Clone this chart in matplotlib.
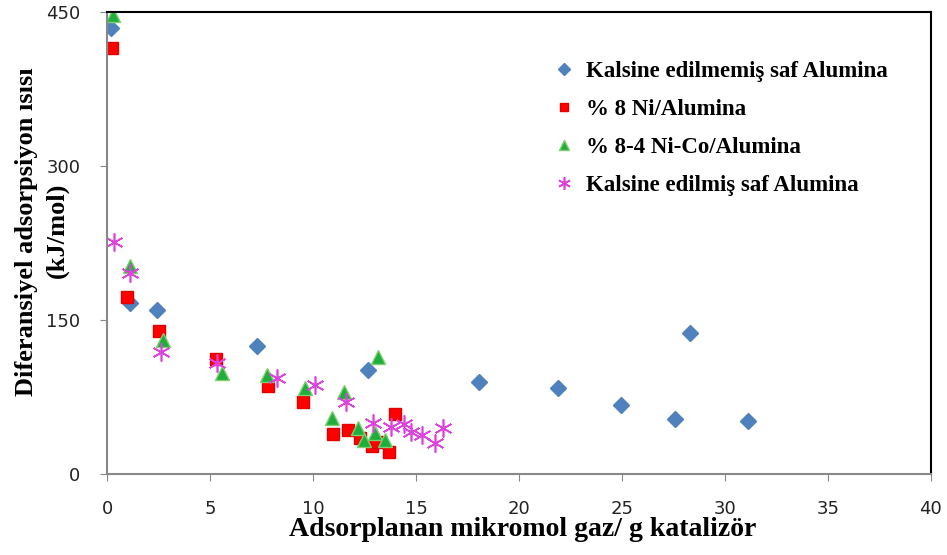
import numpy as np
import matplotlib.pyplot as plt

# Kalsine edilmemis saf Alumina
x_kalsinesiz = [0.2, 1.1, 2.45, 7.3, 12.65, 18.05, 21.9, 24.95, 27.6, 28.3, 31.1]
y_kalsinesiz = [435, 167, 160, 125, 101, 89.5, 83.5, 67, 53.5, 137, 51.5]

# % 8 Ni/Alumina
x_ni = [0.24, 0.97, 2.52, 5.29, 7.82, 9.5, 10.97, 11.7, 12.3, 12.85, 13.1, 13.7, 14.0]
y_ni = [415, 172, 139, 112, 86, 70, 39, 43, 35, 27, 31, 21, 58]

# % 8-4 Ni-Co/Alumina
x_nico = [0.3, 1.1, 2.7, 5.58, 7.77, 9.6, 10.9, 11.5, 12.2, 12.5, 13.0, 13.15, 13.5]
y_nico = [447, 203, 131, 98, 96, 84, 54.5, 80, 45, 33, 40, 114, 33]

# Kalsine edilmis saf Alumina
x_kalsine = [0.34, 1.12, 2.62, 5.34, 8.25, 10.1, 11.6, 12.9, 13.8, 14.4, 14.75, 15.3, 15.9, 16.3]
y_kalsine = [226, 196, 119, 108, 93.5, 86.5, 70, 50, 46, 49, 41, 38, 30, 45]

plt.rcParams['font.family'] = ['Liberation Serif', 'DejaVu Serif']

fig = plt.figure(figsize=(9.47, 5.55), dpi=100)
ax = fig.add_axes([0.113, 0.146, 0.870, 0.832])

ax.plot(x_kalsinesiz, y_kalsinesiz, 'D', color='#4f81bd', markersize=8.5, markeredgecolor='#4f81bd',
        linestyle='none', label='Kalsine edilmemiş saf Alumina')
ax.plot(x_ni, y_ni, 's', color='#ff0000', markersize=8.5, markeredgecolor='#e00000',
        linestyle='none', label='% 8 Ni/Alumina')
ax.plot(x_nico, y_nico, '^', color='#1fae3c', markersize=10, markeredgecolor='#7fcf70',
        linestyle='none', label='% 8-4 Ni-Co/Alumina')
ax.plot(x_kalsine, y_kalsine, marker=(6, 2, 0), color='#dd44dd', markersize=13, markeredgewidth=1.2,
        linestyle='none', label='Kalsine edilmiş saf Alumina')

ax.set_xlim(0, 40)
ax.set_ylim(0, 450)
ax.set_xticks(np.arange(0, 41, 5))
ax.set_yticks([0, 150, 300, 450])

for s in ['left', 'bottom']:
    ax.spines[s].set_color('#888888')
    ax.spines[s].set_linewidth(1.5)
for s in ['top', 'right']:
    ax.spines[s].set_color('black')
    ax.spines[s].set_linewidth(1.5)

ax.tick_params(axis='both', direction='out', length=5, color='#888888', labelcolor='#222222',
               labelsize=13)
ax.tick_params(axis='x', pad=14)
ax.tick_params(axis='y', pad=14)
for lab in ax.get_xticklabels() + ax.get_yticklabels():
    lab.set_family(['DejaVu Sans'])

ax.set_xlabel('Adsorplanan mikromol gaz/ g katalizör', fontsize=20, fontweight='bold')
ax.xaxis.set_label_coords(0.505, -0.093)

# y ekseni basligi, iki satir
ax.text(-0.098, 0.524, 'Diferansiyel adsorpsiyon ısısı', transform=ax.transAxes, rotation=90,
        ha='center', va='center', fontsize=19, fontweight='bold')
ax.text(-0.06, 0.527, '(kJ/mol)', transform=ax.transAxes, rotation=90,
        ha='center', va='center', fontsize=19, fontweight='bold')

ax.legend(loc='upper left', bbox_to_anchor=(0.518, 0.94), frameon=False, handletextpad=0.6,
          labelspacing=0.75, prop={'weight': 'bold', 'size': 16.5}, handlelength=0.8,
          markerscale=0.7)

fig.savefig('out.png', dpi=100)
